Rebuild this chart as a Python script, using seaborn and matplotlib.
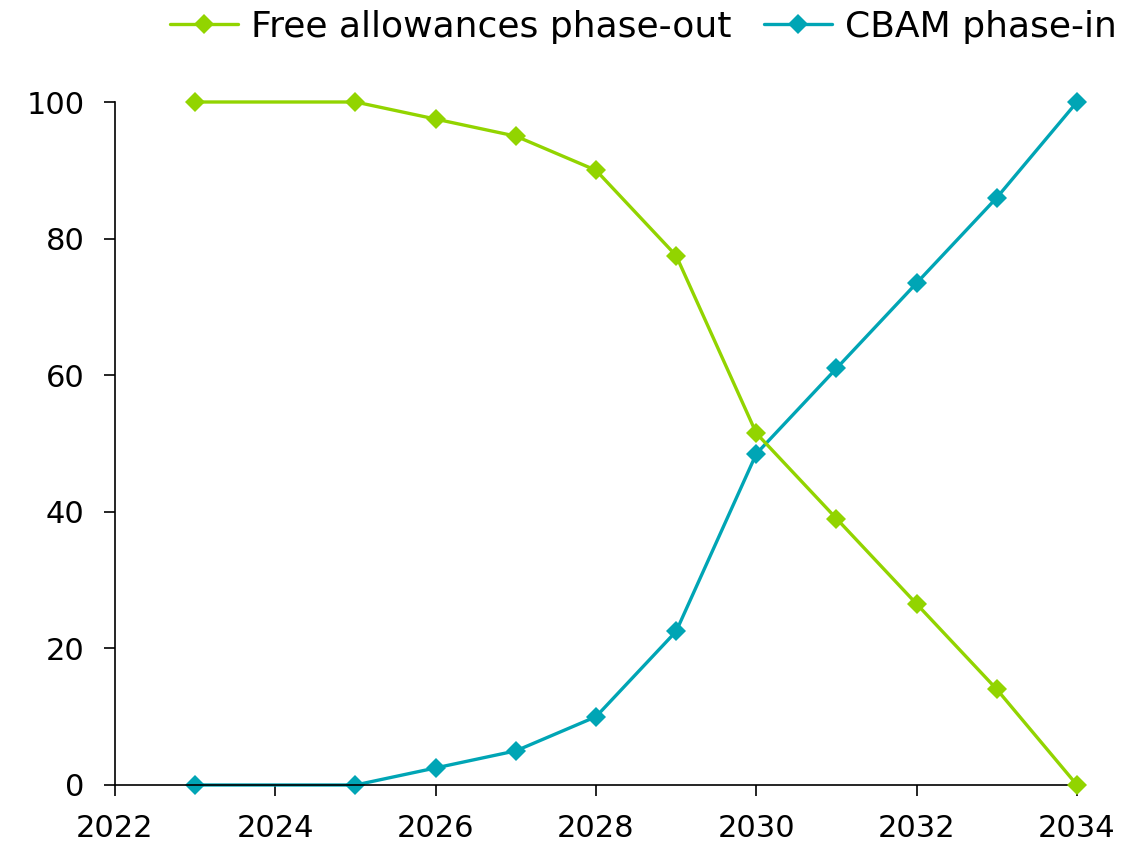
import pandas as pd
import seaborn as sns
import matplotlib.pyplot as plt

years = [2023, 2025, 2026, 2027, 2028, 2029, 2030, 2031, 2032, 2033, 2034]
free_allowances = [100, 100, 97.5, 95, 90, 77.5, 51.5, 39, 26.5, 14, 0]
cbam = [0, 0, 2.5, 5, 10, 22.5, 48.5, 61, 73.5, 86, 100]
series_names = ["Free allowances phase-out", "CBAM phase-in"]
colors = ["#92D400", "#00A5B5"]

df = pd.concat([
    pd.DataFrame({"year": years, "value": free_allowances, "series": series_names[0]}),
    pd.DataFrame({"year": years, "value": cbam, "series": series_names[1]}),
])

sns.set_style("ticks")
plt.rcParams['font.family'] = ['DejaVu Sans']

fig = plt.figure(figsize=(11.24, 8.51), dpi=100)
ax = fig.add_axes([115/1124, 1 - 785/851, (1077-115)/1124, (785-102)/851])

# CBAM first so the green line sits on top where they cross
for name, col, z in [(series_names[1], colors[1], 2), (series_names[0], colors[0], 3)]:
    sns.lineplot(data=df[df.series == name], x="year", y="value", color=col,
                 marker="D", markersize=10, markeredgewidth=0, linewidth=2.4,
                 label=name, ax=ax, zorder=z, clip_on=False)

ax.set_xlim(2022, 2034)
ax.set_ylim(0, 100)
ax.set_xticks(range(2022, 2035, 2))
ax.set_yticks(range(0, 101, 20))
ax.set_xlabel("")
ax.set_ylabel("")
sns.despine(ax=ax)
for s in ["left", "bottom"]:
    ax.spines[s].set_color("black")
    ax.spines[s].set_linewidth(1.2)
ax.tick_params(axis="both", labelsize=22, colors="black", length=8, width=1.2, direction="out")
ax.tick_params(axis="x", pad=13)
ax.tick_params(axis="y", pad=14)

h, l = ax.get_legend_handles_labels()
order = [l.index(series_names[0]), l.index(series_names[1])]
leg = ax.legend([h[i] for i in order], [l[i] for i in order], ncol=2, frameon=False,
                fontsize=26, loc="center right", bbox_to_anchor=(1117/1124, 1 - 27/851),
                bbox_transform=fig.transFigure, labelcolor="black",
                handlelength=1.9, columnspacing=0.9, handletextpad=0.35, borderaxespad=0,
                borderpad=0)

fig.savefig("out.png", dpi=100)
